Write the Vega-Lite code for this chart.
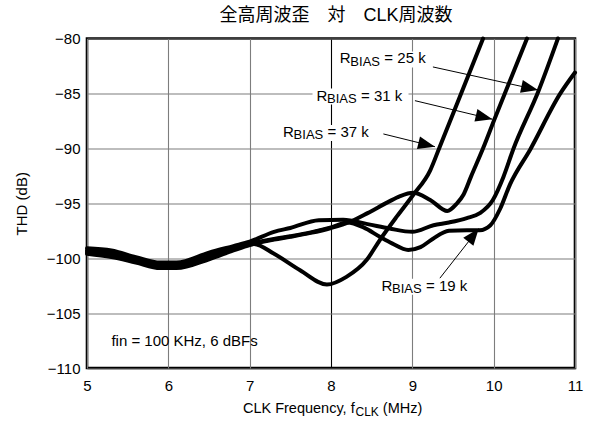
{
  "$schema": "https://vega.github.io/schema/vega-lite/v6.json",
  "width": 488,
  "height": 329.5,
  "autosize": {"type": "none"},
  "padding": {"left": 87, "top": 38.5, "right": 26, "bottom": 53},
  "title": {
    "text": "全高周波歪　対　CLK周波数",
    "font": "Liberation Sans, Noto Sans CJK JP",
    "fontSize": 18,
    "fontWeight": "normal",
    "color": "black",
    "anchor": "middle",
    "offset": 7,
    "dx": 5
  },
  "config": {
    "font": "Liberation Sans",
    "view": {"stroke": "black", "strokeWidth": 2.6}
  },
  "datasets": {
    "curves": [
      {"r": "37k", "x": 5.0, "y": -99.3},
      {"r": "37k", "x": 5.3, "y": -99.5},
      {"r": "37k", "x": 5.6, "y": -100.1},
      {"r": "37k", "x": 5.9, "y": -100.7},
      {"r": "37k", "x": 6.1, "y": -100.7},
      {"r": "37k", "x": 6.5, "y": -99.9},
      {"r": "37k", "x": 6.8, "y": -99.1},
      {"r": "37k", "x": 7.05, "y": -98.7},
      {"r": "37k", "x": 7.3, "y": -99.6},
      {"r": "37k", "x": 7.62, "y": -101.1},
      {"r": "37k", "x": 7.95, "y": -102.4},
      {"r": "37k", "x": 8.19, "y": -101.7},
      {"r": "37k", "x": 8.44, "y": -100.15},
      {"r": "37k", "x": 8.6, "y": -98.35},
      {"r": "37k", "x": 8.81, "y": -96.2},
      {"r": "37k", "x": 9.01, "y": -94.25},
      {"r": "37k", "x": 9.22, "y": -92.0},
      {"r": "37k", "x": 9.34, "y": -89.8},
      {"r": "37k", "x": 9.6, "y": -85.0},
      {"r": "37k", "x": 9.87, "y": -80.0},

      {"r": "31k", "x": 5.0, "y": -99.6},
      {"r": "31k", "x": 5.3, "y": -99.9},
      {"r": "31k", "x": 5.6, "y": -100.4},
      {"r": "31k", "x": 5.9, "y": -100.9},
      {"r": "31k", "x": 6.1, "y": -100.9},
      {"r": "31k", "x": 6.5, "y": -100.1},
      {"r": "31k", "x": 6.8, "y": -99.3},
      {"r": "31k", "x": 7.0, "y": -98.8},
      {"r": "31k", "x": 7.3, "y": -98.3},
      {"r": "31k", "x": 7.5, "y": -98.05},
      {"r": "31k", "x": 7.75, "y": -97.7},
      {"r": "31k", "x": 8.0, "y": -97.25},
      {"r": "31k", "x": 8.23, "y": -96.7},
      {"r": "31k", "x": 8.45, "y": -95.9},
      {"r": "31k", "x": 8.7, "y": -94.9},
      {"r": "31k", "x": 8.85, "y": -94.35},
      {"r": "31k", "x": 9.01, "y": -94.05},
      {"r": "31k", "x": 9.22, "y": -94.7},
      {"r": "31k", "x": 9.43, "y": -95.7},
      {"r": "31k", "x": 9.55, "y": -95.0},
      {"r": "31k", "x": 9.63, "y": -94.2},
      {"r": "31k", "x": 9.72, "y": -92.6},
      {"r": "31k", "x": 9.87, "y": -90.0},
      {"r": "31k", "x": 10.01, "y": -87.35},
      {"r": "31k", "x": 10.41, "y": -80.0},

      {"r": "25k", "x": 5.0, "y": -99.1},
      {"r": "25k", "x": 5.3, "y": -99.3},
      {"r": "25k", "x": 5.6, "y": -99.9},
      {"r": "25k", "x": 5.9, "y": -100.4},
      {"r": "25k", "x": 6.1, "y": -100.4},
      {"r": "25k", "x": 6.5, "y": -99.5},
      {"r": "25k", "x": 6.8, "y": -98.9},
      {"r": "25k", "x": 7.0, "y": -98.5},
      {"r": "25k", "x": 7.3, "y": -97.6},
      {"r": "25k", "x": 7.5, "y": -97.25},
      {"r": "25k", "x": 7.85, "y": -96.55},
      {"r": "25k", "x": 8.15, "y": -96.5},
      {"r": "25k", "x": 8.45, "y": -96.9},
      {"r": "25k", "x": 8.72, "y": -97.3},
      {"r": "25k", "x": 9.0, "y": -97.6},
      {"r": "25k", "x": 9.26, "y": -97.0},
      {"r": "25k", "x": 9.45, "y": -96.75},
      {"r": "25k", "x": 9.67, "y": -96.35},
      {"r": "25k", "x": 9.83, "y": -95.9},
      {"r": "25k", "x": 9.99, "y": -94.7},
      {"r": "25k", "x": 10.12, "y": -92.6},
      {"r": "25k", "x": 10.24, "y": -90.1},
      {"r": "25k", "x": 10.55, "y": -84.8},
      {"r": "25k", "x": 10.79, "y": -80.0},

      {"r": "19k", "x": 5.0, "y": -99.45},
      {"r": "19k", "x": 5.3, "y": -99.7},
      {"r": "19k", "x": 5.6, "y": -100.25},
      {"r": "19k", "x": 5.9, "y": -100.8},
      {"r": "19k", "x": 6.1, "y": -100.75},
      {"r": "19k", "x": 6.5, "y": -99.8},
      {"r": "19k", "x": 6.8, "y": -99.1},
      {"r": "19k", "x": 7.0, "y": -98.7},
      {"r": "19k", "x": 7.3, "y": -98.25},
      {"r": "19k", "x": 7.5, "y": -98.0},
      {"r": "19k", "x": 7.75, "y": -97.65},
      {"r": "19k", "x": 8.0, "y": -97.2},
      {"r": "19k", "x": 8.2, "y": -96.75},
      {"r": "19k", "x": 8.4, "y": -97.2},
      {"r": "19k", "x": 8.6, "y": -98.05},
      {"r": "19k", "x": 8.75, "y": -98.65},
      {"r": "19k", "x": 8.95, "y": -99.25},
      {"r": "19k", "x": 9.1, "y": -99.0},
      {"r": "19k", "x": 9.25, "y": -98.25},
      {"r": "19k", "x": 9.45, "y": -97.5},
      {"r": "19k", "x": 9.67, "y": -97.45},
      {"r": "19k", "x": 9.83, "y": -97.45},
      {"r": "19k", "x": 9.96, "y": -97.0},
      {"r": "19k", "x": 10.08, "y": -95.5},
      {"r": "19k", "x": 10.2, "y": -93.3},
      {"r": "19k", "x": 10.45, "y": -90.1},
      {"r": "19k", "x": 10.82, "y": -85.0},
      {"r": "19k", "x": 11.0, "y": -83.1}
    ],
    "arrows": [
      {"r": "k25", "x": 10.545, "y": -84.69, "x2": 9.253, "y2": -82.59},
      {"r": "k31", "x": 9.985, "y": -87.35, "x2": 9.032, "y2": -85.66},
      {"r": "k37", "x": 9.278, "y": -89.85, "x2": 8.644, "y2": -88.69},
      {"r": "k19", "x": 9.817, "y": -97.3, "x2": 9.339, "y2": -101.82}
    ],
    "labels": [
      {"r": "k25", "x": 8.109, "y": -81.82, "t": "= 25 k"},
      {"r": "k31", "x": 7.822, "y": -85.19, "t": "= 31 k"},
      {"r": "k37", "x": 7.411, "y": -88.51, "t": "= 37 k"},
      {"r": "k19", "x": 8.622, "y": -102.5, "t": "= 19 k"}
    ],
    "note": [
      {"x": 5.3, "y": -107.52, "t": "fin = 100 KHz, 6 dBFs"}
    ],
    "xtitle": [
      {"x": 8, "y": -110, "a": "CLK Frequency, f", "b": "CLK", "c": "(MHz)"}
    ]
  },
  "encoding": {
    "x": {
      "field": "x", "type": "quantitative",
      "scale": {"domain": [5, 11], "nice": false, "zero": false},
      "axis": {
        "values": [5, 6, 7, 8, 9, 10, 11],
        "title": null,
        "grid": true,
        "gridColor": {"condition": {"test": "datum.value === 8", "value": "#000000"}, "value": "#7d7d7d"},
        "gridWidth": 1.1,
        "ticks": false, "tickSize": 0,
        "domain": false,
        "labelFontSize": 15, "labelColor": "black",
        "labelPadding": 10, "labelFlush": false, "labelOverlap": false
      }
    },
    "y": {
      "field": "y", "type": "quantitative",
      "scale": {"domain": [-110, -80], "nice": false, "zero": false},
      "axis": {
        "values": [-110, -105, -100, -95, -90, -85, -80],
        "title": "THD (dB)",
        "titleFontSize": 15, "titleFontWeight": "normal", "titleColor": "black",
        "titlePadding": 17,
        "grid": true, "gridColor": "#7d7d7d", "gridWidth": 1.1,
        "ticks": false, "tickSize": 0,
        "domain": false,
        "labelFontSize": 15, "labelColor": "black",
        "labelPadding": 7, "labelFlush": false, "labelOverlap": false
      }
    }
  },
  "layer": [
    {
      "data": {"name": "labels"},
      "mark": {"type": "rect", "width": 96, "height": 16, "xOffset": 44, "yOffset": 1, "color": "white", "opacity": 1}
    },
    {
      "data": {"name": "curves"},
      "mark": {"type": "line", "color": "black", "strokeWidth": 4, "interpolate": "monotone", "strokeCap": "round", "strokeJoin": "round"},
      "encoding": {"detail": {"field": "r"}}
    },
    {
      "data": {"name": "arrows"},
      "mark": {"type": "rule", "color": "black", "strokeWidth": 1},
      "encoding": {"x2": {"field": "x2"}, "y2": {"field": "y2"}}
    },
    {
      "data": {"name": "arrows"},
      "transform": [{"filter": "datum.r == 'k25'"}],
      "mark": {"type": "point", "shape": "M0,0L-0.8951,-0.5858L-1.0583,0.1564Z", "size": 1150, "filled": true, "color": "black", "opacity": 1},
      "encoding": {}
    },
    {
      "data": {"name": "arrows"},
      "transform": [{"filter": "datum.r == 'k31'"}],
      "mark": {"type": "point", "shape": "M0,0L-0.8848,-0.6014L-1.0608,0.138Z", "size": 1150, "filled": true, "color": "black", "opacity": 1},
      "encoding": {}
    },
    {
      "data": {"name": "arrows"},
      "transform": [{"filter": "datum.r == 'k37'"}],
      "mark": {"type": "point", "shape": "M0,0L-0.8805,-0.6075L-1.0617,0.1305Z", "size": 1150, "filled": true, "color": "black", "opacity": 1},
      "encoding": {}
    },
    {
      "data": {"name": "arrows"},
      "transform": [{"filter": "datum.r == 'k19'"}],
      "mark": {"type": "point", "shape": "M0,0L-0.917,0.5509L-0.3198,1.0209Z", "size": 1150, "filled": true, "color": "black", "opacity": 1},
      "encoding": {}
    },
    {
      "data": {"name": "labels"},
      "mark": {"type": "text", "align": "left", "baseline": "middle", "fontSize": 15, "text": "R", "color": "black"}
    },
    {
      "data": {"name": "labels"},
      "mark": {"type": "text", "align": "left", "baseline": "middle", "fontSize": 13, "text": "BIAS", "dx": 10.5, "dy": 3.5, "color": "black"}
    },
    {
      "data": {"name": "labels"},
      "mark": {"type": "text", "align": "left", "baseline": "middle", "fontSize": 15, "dx": 44.5, "color": "black"},
      "encoding": {"text": {"field": "t"}}
    },
    {
      "data": {"name": "note"},
      "mark": {"type": "text", "align": "left", "baseline": "middle", "fontSize": 15, "color": "black"},
      "encoding": {"text": {"field": "t"}}
    },
    {
      "data": {"name": "xtitle"},
      "mark": {"type": "text", "align": "right", "baseline": "middle", "fontSize": 14.5, "dx": 23.7, "dy": 41, "color": "black"},
      "encoding": {"text": {"field": "a"}}
    },
    {
      "data": {"name": "xtitle"},
      "mark": {"type": "text", "align": "left", "baseline": "middle", "fontSize": 12, "dx": 24.5, "dy": 44, "color": "black"},
      "encoding": {"text": {"field": "b"}}
    },
    {
      "data": {"name": "xtitle"},
      "mark": {"type": "text", "align": "left", "baseline": "middle", "fontSize": 14.5, "dx": 51.8, "dy": 41, "color": "black"},
      "encoding": {"text": {"field": "c"}}
    }
  ]
}
